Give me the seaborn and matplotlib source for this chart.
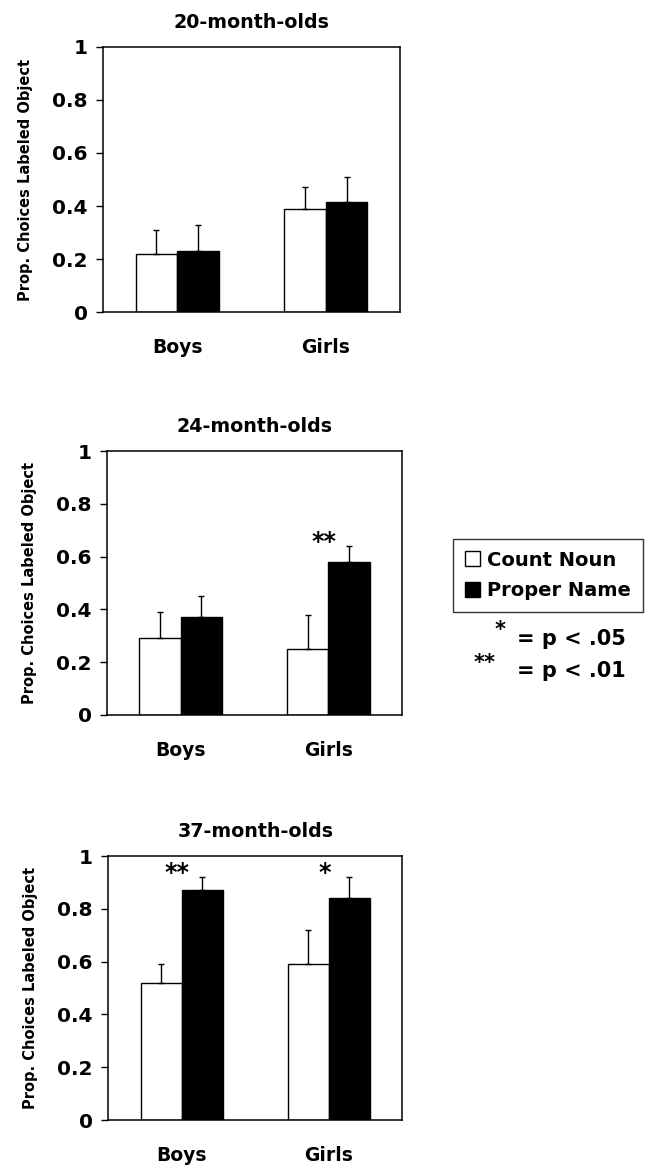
import pandas as pd
import matplotlib.pyplot as plt
import seaborn as sns
from matplotlib.patches import Patch

ages = ["20-month-olds", "24-month-olds", "37-month-olds"]
genders = ["Boys", "Girls"]
conditions = ["Count Noun", "Proper Name"]

# mean proportion, per age: [Boys, Girls]
count_noun = [[0.22, 0.39], [0.29, 0.25], [0.52, 0.59]]
proper_name = [[0.23, 0.415], [0.37, 0.58], [0.87, 0.84]]
# upper error (SE), same layout
count_noun_err = [[0.09, 0.08], [0.10, 0.13], [0.07, 0.13]]
proper_name_err = [[0.10, 0.095], [0.08, 0.06], [0.05, 0.08]]
# significance marks: (age index, gender, mark)
stars = [(1, "Girls", "**"), (2, "Boys", "**"), (2, "Girls", "*")]

rows = []
for i, age in enumerate(ages):
    for j, g in enumerate(genders):
        rows.append({"age": age, "gender": g, "condition": "Count Noun",
                     "value": count_noun[i][j], "err": count_noun_err[i][j]})
        rows.append({"age": age, "gender": g, "condition": "Proper Name",
                     "value": proper_name[i][j], "err": proper_name_err[i][j]})
df = pd.DataFrame(rows)

sns.set_style("ticks")
plt.rcParams["font.family"] = ["DejaVu Sans"]
plt.rcParams["font.weight"] = "bold"
for key in ["text.color", "axes.labelcolor", "xtick.color", "ytick.color"]:
    plt.rcParams[key] = "black"

fig = plt.figure(figsize=(6.52, 11.69), dpi=100)
# axes boxes in figure fractions: left, bottom, width, height
boxes = [(0.158, 0.7331, 0.4555, 0.2267),
         (0.164, 0.3884, 0.4525, 0.2258),
         (0.166, 0.0419, 0.4510, 0.2258)]
palette = {"Count Noun": "white", "Proper Name": "black"}

for i, age in enumerate(ages):
    ax = fig.add_axes(boxes[i])
    sub = df[df["age"] == age]
    sns.barplot(data=sub, x="gender", y="value", hue="condition",
                order=genders, hue_order=conditions, palette=palette,
                edgecolor="black", linewidth=1, width=0.56,
                errorbar=None, legend=False, ax=ax)

    # upper-only error bars from the bar geometry
    bar_conts = list(ax.containers)
    for k, cont in enumerate(bar_conts):
        cond = conditions[k]
        for j, bar in enumerate(cont):
            err = sub[(sub["gender"] == genders[j]) & (sub["condition"] == cond)]["err"].iloc[0]
            cx = bar.get_x() + bar.get_width() / 2
            ax.errorbar(cx, bar.get_height(), yerr=[[0], [err]], fmt="none",
                        ecolor="black", elinewidth=1, capsize=2.5, capthick=1)

    for (ai, g, mark) in stars:
        if ai != i:
            continue
        j = genders.index(g)
        top = sub[(sub["gender"] == g) & (sub["condition"] == "Proper Name")]
        y = top["value"].iloc[0] + top["err"].iloc[0] - 0.012
        ax.text(j - 0.03, y, mark, ha="center", va="baseline",
                fontsize=17, fontweight="bold")

    ax.set_xlim(-0.5, 1.5)
    ax.set_ylim(0, 1)
    ax.set_yticks([0, 0.2, 0.4, 0.6, 0.8, 1])
    ax.set_yticklabels(["0", "0.2", "0.4", "0.6", "0.8", "1"])
    ax.tick_params(axis="y", length=5, width=1, pad=6, labelsize=14.5)
    ax.tick_params(axis="x", length=0, pad=19, labelsize=13.5)
    for lab in ax.get_xticklabels() + ax.get_yticklabels():
        lab.set_fontweight("bold")
    ax.set_xlabel("")
    ax.set_ylabel("Prop. Choices Labeled Object", fontsize=10.5,
                  fontweight="bold", labelpad=14)
    ax.set_title(age, fontsize=13.7, fontweight="bold", pad=14)
    for s in ax.spines.values():
        s.set_visible(True)
        s.set_color("black")
        s.set_linewidth(1.1)

handles = [Patch(facecolor="white", edgecolor="black", linewidth=1),
           Patch(facecolor="black", edgecolor="black", linewidth=1)]
leg = fig.legend(handles, conditions, loc="upper left",
                 bbox_to_anchor=(453 / 652, 1 - 539 / 1169),
                 bbox_transform=fig.transFigure, borderaxespad=0,
                 frameon=True, fancybox=False, edgecolor="black",
                 prop={"size": 14, "weight": "bold"},
                 handlelength=0.8, handleheight=0.8, handletextpad=0.35,
                 labelspacing=0.6, borderpad=0.6)
leg.get_frame().set_linewidth(1)

fs = 15
fig.text(500 / 652, 1 - 630 / 1169, "*", ha="center", va="center", fontsize=fs, fontweight="bold")
fig.text(517 / 652, 1 - 645 / 1169, "= p < .05", ha="left", va="baseline", fontsize=fs, fontweight="bold")
fig.text(485 / 652, 1 - 663 / 1169, "**", ha="center", va="center", fontsize=fs, fontweight="bold")
fig.text(517 / 652, 1 - 677 / 1169, "= p < .01", ha="left", va="baseline", fontsize=fs, fontweight="bold")

fig.savefig("out.png", dpi=100)
